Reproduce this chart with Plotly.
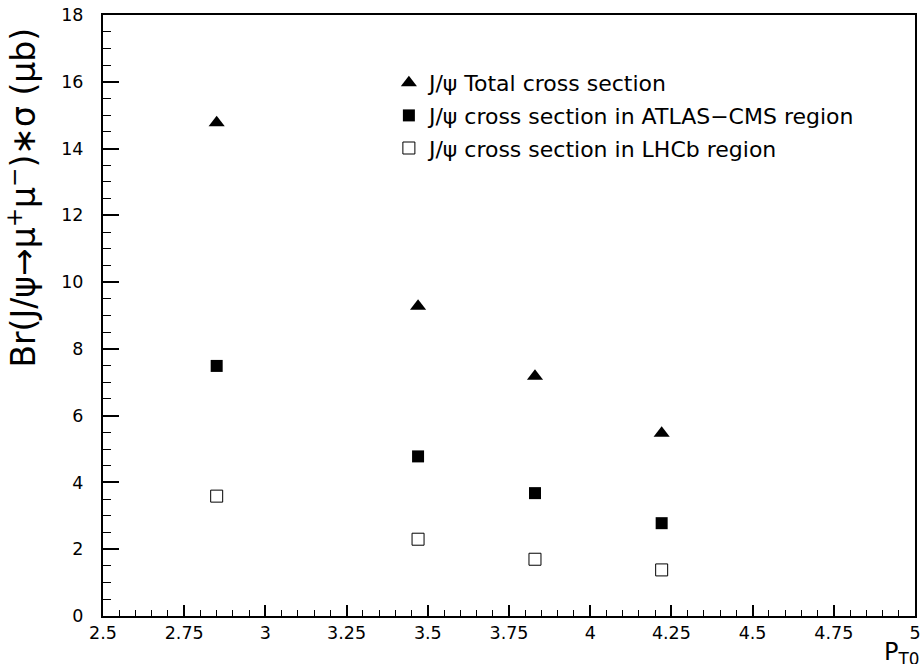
import plotly.graph_objects as go

pt0 = [2.85, 3.47, 3.83, 4.22]
total = [14.77, 9.28, 7.18, 5.47]
atlas_cms = [7.49, 4.78, 3.68, 2.78]
lhcb = [3.59, 2.30, 1.70, 1.38]

names = ["J/\u03c8 Total cross section",
         "J/\u03c8 cross section in ATLAS\u2212CMS region",
         "J/\u03c8 cross section in LHCb region"]

xtickvals = [2.5, 2.75, 3, 3.25, 3.5, 3.75, 4, 4.25, 4.5, 4.75, 5]
xticktext = ["2.5", "2.75", "3", "3.25", "3.5", "3.75", "4", "4.25", "4.5", "4.75", "5"]

FONT = "DejaVu Sans"

fig = go.Figure()
fig.add_trace(go.Scatter(x=pt0, y=total, mode="markers", name=names[0], legendgroup="a",
                         marker=dict(symbol="triangle-up", size=14, color="black",
                                     line=dict(width=0))))
fig.add_trace(go.Scatter(x=pt0, y=atlas_cms, mode="markers", name=names[1], legendgroup="b",
                         marker=dict(symbol="square", size=12, color="black",
                                     line=dict(width=0))))
fig.add_trace(go.Scatter(x=pt0, y=lhcb, mode="markers", name=names[2], legendgroup="c",
                         marker=dict(symbol="square-open", size=12, color="black",
                                     line=dict(width=1))))

W, H = 922, 664
L, R, T, B = 103, 1, 15, 48
pw = W - L - R
ph = H - T - B

def px_x(p):  # page pixel -> paper x
    return (p - L) / pw

def px_y(p):  # page pixel -> paper y
    return (T + ph - p) / ph

fig.update_layout(
    width=W, height=H,
    margin=dict(l=L, r=R, t=T, b=B),
    paper_bgcolor="white", plot_bgcolor="white",
    font=dict(family=FONT, size=17, color="black"),
    showlegend=True,
    legend=dict(x=px_x(391), y=px_y(62), xanchor="left", yanchor="top",
                bgcolor="rgba(0,0,0,0)", borderwidth=0, tracegroupgap=1,
                font=dict(family=FONT, size=22, color="black")),
    xaxis=dict(range=[2.5, 5], tickmode="array", tickvals=xtickvals, ticktext=xticktext,
               ticks="inside", ticklen=11, tickwidth=1.5, tickcolor="black",
               minor=dict(dtick=0.05, ticks="inside", ticklen=6, tickwidth=1.2, tickcolor="black"),
               showgrid=False, zeroline=False, showline=True, linecolor="black", linewidth=2,
               mirror=True, tickfont=dict(family=FONT, size=17.5), ticklabelstandoff=0,
               ticklabeloverflow="allow"),
    yaxis=dict(range=[0, 18], tickmode="linear", tick0=0, dtick=2,
               ticks="inside", ticklen=16, tickwidth=1.5, tickcolor="black",
               minor=dict(dtick=0.5, ticks="inside", ticklen=8, tickwidth=1.2, tickcolor="black"),
               showgrid=False, zeroline=False, showline=True, linecolor="black", linewidth=2,
               mirror=True, tickfont=dict(family=FONT, size=17.5), ticklabelstandoff=14,
               ticklabeloverflow="allow"),
)

fig.add_annotation(text="Br(J/\u03c8\u2192\u03bc<sup>+</sup>\u03bc<sup>\u2212</sup>)\u2217\u03c3 (\u03bcb)",
                   xref="paper", yref="paper", x=px_x(22), y=px_y(198),
                   xanchor="center", yanchor="middle", textangle=-90, showarrow=False,
                   font=dict(family=FONT, size=33, color="black"))
fig.add_annotation(text="P<sub>T0</sub>", xref="paper", yref="paper",
                   x=px_x(888), y=px_y(653), xanchor="left", yanchor="middle",
                   showarrow=False, font=dict(family=FONT, size=24, color="black"))

fig.write_html("out.html", config={"displayModeBar": False},
               post_script="document.body.style.margin='0';"
                           "document.body.style.overflow='hidden';"
                           "document.documentElement.style.overflow='hidden';")
